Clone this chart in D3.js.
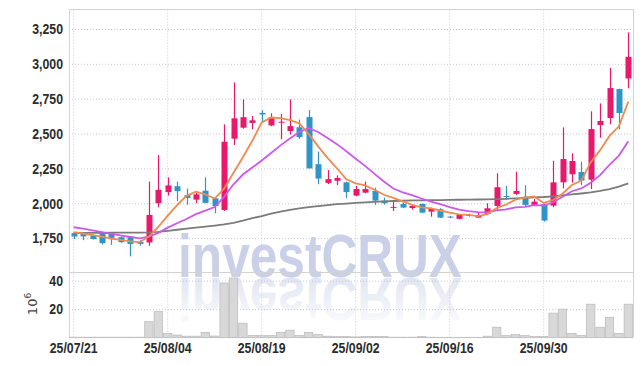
<!DOCTYPE html>
<html>
<head>
<meta charset="utf-8">
<script src="https://cdn.jsdelivr.net/npm/d3@7"></script>
<style>
  body { margin: 0; background: #fff; }
  svg { display: block; }
  .grid line { stroke: #c5c9dc; stroke-dasharray: 1,2; }
  .grid path { display: none; }
</style>
</head>
<body>
<div id="chart"></div>
<script>
// trading days (yy/mm/dd)
var dates = ['25/07/21','25/07/22','25/07/23','25/07/24','25/07/25',
  '25/07/28','25/07/29','25/07/30','25/07/31','25/08/01',
  '25/08/04','25/08/05','25/08/06','25/08/07','25/08/08',
  '25/08/11','25/08/12','25/08/13','25/08/14',
  '25/08/18','25/08/19','25/08/20','25/08/21','25/08/22',
  '25/08/25','25/08/26','25/08/27','25/08/28','25/08/29',
  '25/09/01','25/09/02','25/09/03','25/09/04','25/09/05',
  '25/09/08','25/09/09','25/09/10','25/09/11','25/09/12',
  '25/09/15','25/09/16','25/09/17','25/09/18','25/09/19',
  '25/09/22','25/09/23','25/09/24','25/09/25','25/09/26',
  '25/09/29','25/09/30','25/10/01','25/10/02','25/10/10',
  '25/10/13','25/10/14','25/10/15','25/10/16','25/10/17','25/10/20'];

var opens  = [1786,1786,1769,1786,1786,1757,1761,1723,1719,2000,
              2080,2122,2058,2026,2090,2035,1952,2463,2542,2576,
              2648,2558,2578,2518,2545,2618,2280,2146,2161,2150,
              2055,2076,2088,2019,1969,1995,1966,1995,1940,1957,
              1904,1888,1909,1897,1923,1981,2052,2067,2047,1988,
              1993,1983,2150,2208,2224,2169,2561,2611,2819,2895];
var highs  = [1793,1790,1776,1790,1790,1762,1765,1735,2155,2345,
              2186,2155,2105,2075,2186,2040,2566,2867,2745,2625,
              2668,2645,2640,2745,2600,2668,2370,2238,2200,2155,
              2124,2155,2112,2040,2011,2005,1995,1998,1969,1965,
              1910,1920,1925,1930,2000,2215,2124,2226,2129,2030,
              1998,2305,2544,2358,2298,2659,2716,2971,2822,3225];
var lows   = [1743,1735,1740,1705,1702,1716,1619,1695,1695,1971,
              2055,2015,1990,2000,2000,1928,1945,2418,2535,2530,
              2585,2552,2459,2493,2461,2250,2136,2138,2130,2036,
              2050,2072,1988,1990,1945,1965,1955,1930,1904,1895,
              1893,1883,1905,1895,1915,1952,2024,2060,1980,1985,
              1868,1971,2107,2148,2131,2102,2470,2566,2530,2824];
var closes = [1761,1762,1743,1714,1752,1721,1707,1709,1916,2096,
              2128,2087,2038,2064,2003,1980,2441,2609,2617,2595,
              2637,2616,2585,2553,2474,2250,2177,2173,2181,2080,
              2102,2102,2019,2000,1974,1969,1981,1933,1959,1897,
              1897,1916,1916,1916,1964,2115,2045,2088,1988,2011,
              1876,2150,2317,2303,2163,2532,2590,2826,2647,3050];

// volume, millions of shares
var volumes = [0.3,0.3,0.3,0.3,0.3,0.3,0.3,0.3,11.2,18.3,
               3.0,1.8,1.0,1.0,3.7,1.1,38.4,41.9,10.1,1.6,
               1.4,1.4,3.7,5.2,1.5,3.7,2.3,1.0,0.8,0.8,
               0.5,0.8,0.8,0.8,0.3,0.3,0.3,0.8,0.3,0.2,
               0.2,0.2,0.2,0.2,1.0,7.3,1.4,2.1,1.4,0.8,
               0.7,17.2,20.0,3.0,1.5,23.5,7.3,14.3,3.0,23.5];

// moving averages
var ma5  = [1793,1783,1772,1760,1746,1738,1727,1721,1761,1830,
            1911,1987,2053,2083,2064,2034,2105,2219,2330,2448,
            2580,2615,2610,2597,2573,2496,2408,2325,2251,2172,
            2143,2128,2097,2061,2039,2013,1989,1971,1963,1948,
            1933,1920,1917,1908,1922,1965,1991,2026,2040,2049,
            2002,2023,2068,2131,2162,2293,2381,2483,2552,2729];
var ma10 = [1828,1818,1806,1793,1781,1769,1759,1748,1760,1788,
            1825,1857,1887,1922,1947,1973,2046,2136,2206,2256,
            2307,2360,2415,2464,2511,2538,2511,2468,2424,2373,
            2319,2268,2211,2156,2106,2078,2058,2034,2012,1994,
            1973,1955,1944,1936,1935,1949,1956,1971,1974,1986,
            1984,2007,2047,2086,2106,2147,2202,2276,2342,2445];
var ma60 = [1787,1788,1788,1788,1789,1789,1789,1790,1791,1795,
            1802,1810,1818,1825,1832,1840,1848,1860,1875,1893,
            1908,1925,1940,1952,1963,1972,1980,1987,1993,1998,
            2002,2006,2010,2013,2016,2018,2020,2021,2022,2023,
            2024,2025,2026,2027,2028,2030,2032,2035,2038,2042,
            2045,2050,2056,2063,2070,2078,2088,2102,2120,2142];

var priceTicks = [1750, 2000, 2250, 2500, 2750, 3000, 3250];
var volTicks = [20, 40];
var dateTicks = ['25/07/21','25/08/04','25/08/19','25/09/02','25/09/16','25/09/30'];

var width = 643, height = 366;
var plotL = 69, plotR = 633, plotT = 9, splitY = 272, plotB = 337.6;
var font = "'Liberation Sans','Arial',sans-serif";
var upColor = '#e8196b', downColor = '#2f94c8';

var svg = d3.select('#chart').append('svg')
    .attr('width', width)
    .attr('height', height)
    .style('font-family', font);

var x = d3.scaleBand()
    .domain(dates)
    .range([plotL, plotR])
    .padding(0);
var cx = (d) => x(d) + x.bandwidth() / 2;

var yPrice = d3.scaleLinear()
    .domain([1507, 3393])
    .range([splitY, plotT]);

var yVol = d3.scaleLinear()
    .domain([0, 46.1])
    .range([plotB, splitY]);

// watermark with reflection
var defs = svg.append('defs');
var grad = defs.append('linearGradient')
    .attr('id', 'reflect')
    .attr('x1', 0).attr('y1', 0).attr('x2', 0).attr('y2', 1);
grad.append('stop').attr('offset', '0%').attr('stop-color', '#d3d8ea').attr('stop-opacity', 0);
grad.append('stop').attr('offset', '100%').attr('stop-color', '#d3d8ea').attr('stop-opacity', 0.8);

svg.append('text')
    .attr('transform', 'translate(320,277) scale(0.8,1)')
    .attr('text-anchor', 'middle')
    .attr('font-size', 62)
    .attr('font-weight', 'bold')
    .attr('fill', '#c9d0e7')
    .text('investCRUX');

svg.append('text')
    .attr('transform', 'translate(320,278) scale(0.8,-1)')
    .attr('text-anchor', 'middle')
    .attr('font-size', 62)
    .attr('font-weight', 'bold')
    .attr('fill', 'url(#reflect)')
    .text('investCRUX');

// grids
svg.append('g')
    .attr('class', 'grid')
    .attr('transform', 'translate(' + plotL + ',0)')
    .call(d3.axisLeft(yPrice).tickValues(priceTicks).tickSize(-(plotR - plotL)).tickFormat(''));

svg.append('g')
    .attr('class', 'grid')
    .attr('transform', 'translate(' + plotL + ',0)')
    .call(d3.axisLeft(yVol).tickValues(volTicks).tickSize(-(plotR - plotL)).tickFormat(''));

svg.append('g')
    .attr('class', 'grid')
    .attr('transform', 'translate(0,' + plotB + ')')
    .call(d3.axisBottom(x).tickValues(dateTicks).tickSize(-(plotB - plotT)).tickFormat(''));

// frame
var frame = svg.append('g').attr('stroke', '#d2d2d2').attr('fill', 'none');
frame.append('line').attr('x1', plotL).attr('x2', plotR).attr('y1', plotT + 0.5).attr('y2', plotT + 0.5);
frame.append('line').attr('x1', plotR + 0.5).attr('x2', plotR + 0.5).attr('y1', plotT).attr('y2', plotB);
frame.append('line').attr('x1', plotL).attr('x2', plotR).attr('y1', splitY + 0.5).attr('y2', splitY + 0.5);
frame.append('line').attr('x1', plotL).attr('x2', plotR).attr('y1', plotB).attr('y2', plotB);
frame.append('line').attr('x1', plotL + 0.5).attr('x2', plotL + 0.5).attr('y1', plotT).attr('y2', plotB);

// volume bars
svg.append('g')
  .selectAll('rect')
  .data(dates)
  .enter()
  .append('rect')
    .attr('x', (d) => x(d) + 0.5)
    .attr('width', x.bandwidth() - 1)
    .attr('y', (d, i) => yVol(volumes[i]))
    .attr('height', (d, i) => plotB - yVol(volumes[i]))
    .attr('fill', '#d8d8d8')
    .attr('stroke', '#b9b9b9')
    .attr('stroke-width', 0.7);

// candles
var candles = svg.append('g')
  .selectAll('g')
  .data(dates)
  .enter()
  .append('g')
    .attr('fill', (d, i) => closes[i] >= opens[i] ? upColor : downColor)
    .attr('stroke', (d, i) => closes[i] >= opens[i] ? upColor : downColor);

candles.append('line')
    .attr('x1', (d) => Math.round(cx(d)) + 0.5)
    .attr('x2', (d) => Math.round(cx(d)) + 0.5)
    .attr('y1', (d, i) => yPrice(highs[i]))
    .attr('y2', (d, i) => yPrice(lows[i]))
    .attr('stroke-width', 1.2);

candles.append('rect')
    .attr('x', (d) => Math.round(cx(d)) + 0.5 - 3)
    .attr('width', 6)
    .attr('y', (d, i) => yPrice(Math.max(opens[i], closes[i])))
    .attr('height', (d, i) => Math.max(1, Math.abs(yPrice(opens[i]) - yPrice(closes[i]))))
    .attr('stroke', 'none');

// moving average lines
var maLines = [
  { values: ma60, color: '#7b7b7b' },
  { values: ma10, color: '#cc58ec' },
  { values: ma5,  color: '#ef8a50' }
];
var line = d3.line()
    .x((d, i) => cx(dates[i]))
    .y((d) => yPrice(d));

maLines.forEach(function (m) {
  svg.append('path')
      .datum(m.values)
      .attr('d', line)
      .attr('fill', 'none')
      .attr('stroke', m.color)
      .attr('stroke-width', 1.8);
});

// axis labels, narrowed to match the condensed face of the original
function styleAxis(g, anchorX) {
  g.select('.domain').remove();
  g.selectAll('text')
      .attr('font-family', font)
      .attr('font-size', 15)
      .attr('font-weight', 'bold')
      .attr('fill', '#2b2b2b')
      .attr('transform', 'scale(0.82,1)');
}

svg.append('g')
    .attr('transform', 'translate(' + (plotL - 6) + ',0)')
    .call(d3.axisLeft(yPrice).tickValues(priceTicks).tickSize(0).tickPadding(0).tickFormat(d3.format(',')))
    .call(styleAxis);

svg.append('g')
    .attr('transform', 'translate(' + (plotL - 6) + ',0)')
    .call(d3.axisLeft(yVol).tickValues(volTicks).tickSize(0).tickPadding(0))
    .call(styleAxis);

svg.append('g')
    .attr('transform', 'translate(0,' + plotB + ')')
    .call(d3.axisBottom(x).tickValues(dateTicks).tickSize(0).tickPadding(5))
    .call(styleAxis);

// volume unit
var unit = svg.append('text')
    .attr('transform', 'translate(37,304) rotate(-90)')
    .attr('text-anchor', 'middle')
    .attr('font-family', "'DejaVu Sans',sans-serif")
    .attr('font-size', 13)
    .attr('fill', '#444');
unit.append('tspan').text('10');
unit.append('tspan').attr('font-size', 9).attr('dy', -6).text('6');
</script>
</body>
</html>
